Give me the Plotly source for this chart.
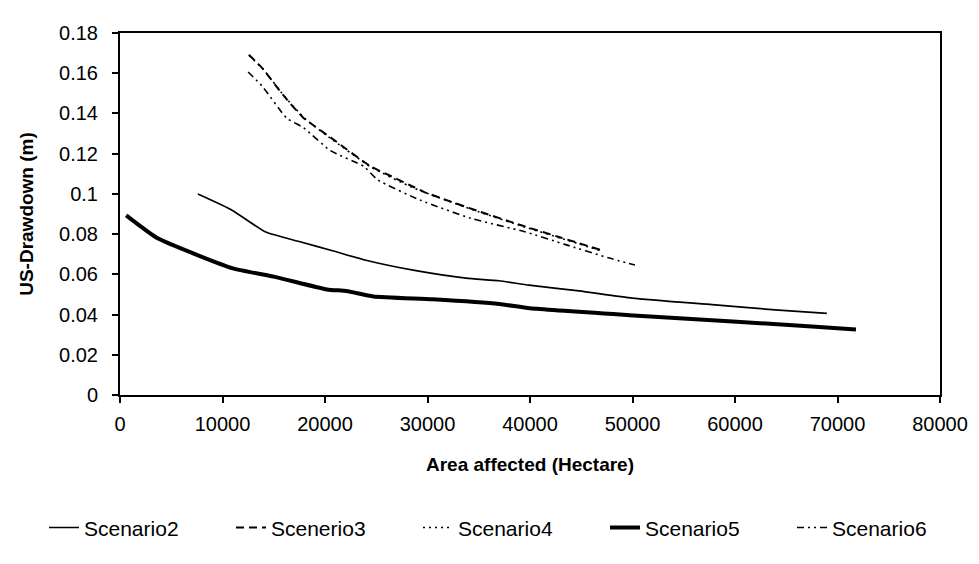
import plotly.graph_objects as go

# Data (Area affected in hectare, US-Drawdown in m)
s2_x = [7600, 10930, 14220, 17480, 20730, 23990, 28880, 33750, 36990, 39910, 44780, 49980, 57770, 64260, 68960]
s2_y = [0.0999, 0.0919, 0.0810, 0.0763, 0.0717, 0.0670, 0.0618, 0.0581, 0.0568, 0.0546, 0.0518, 0.0482, 0.0449, 0.0422, 0.0406]

s3_x = [12570, 13900, 15890, 17880, 20510, 24450, 26410, 28710, 29690, 34910, 39150, 43050, 46970]
s3_y = [0.1692, 0.1624, 0.1493, 0.1379, 0.1282, 0.1137, 0.1089, 0.1033, 0.1009, 0.0915, 0.0844, 0.0782, 0.0720]

s4_x = [12600, 14000, 16000, 18000, 20500, 24500, 28700, 35000, 39200, 43100, 47000]
s4_y = [0.1688, 0.1618, 0.1488, 0.1376, 0.1278, 0.1133, 0.1028, 0.0911, 0.0840, 0.0778, 0.0716]

s5_x = [600, 3580, 7800, 11000, 15300, 20200, 22100, 24700, 30500, 37000, 40000, 49700, 59400, 67500, 71800]
s5_y = [0.0893, 0.0782, 0.0691, 0.0630, 0.0585, 0.0525, 0.0517, 0.0490, 0.0476, 0.0453, 0.0431, 0.0397, 0.0367, 0.0341, 0.0326]

s6_x = [12500, 13930, 16260, 17900, 20530, 23810, 25130, 29380, 34270, 39480, 43400, 47640, 50240]
s6_y = [0.1606, 0.1532, 0.1377, 0.1329, 0.1215, 0.1136, 0.1070, 0.0967, 0.0878, 0.0812, 0.0749, 0.0682, 0.0646]

x_ticks = [0, 10000, 20000, 30000, 40000, 50000, 60000, 70000, 80000]
y_ticks = [0, 0.02, 0.04, 0.06, 0.08, 0.1, 0.12, 0.14, 0.16, 0.18]

FONT = "Liberation Sans, Arial, sans-serif"

fig = go.Figure()
fig.add_trace(go.Scatter(x=s2_x, y=s2_y, mode="lines", name="Scenario2",
                         line=dict(color="black", width=1.7, shape="spline", smoothing=0.5)))
fig.add_trace(go.Scatter(x=s3_x, y=s3_y, mode="lines", name="Scenerio3",
                         line=dict(color="black", width=2, dash="8px,5px", shape="spline", smoothing=0.5)))
fig.add_trace(go.Scatter(x=s4_x, y=s4_y, mode="lines", name="Scenario4",
                         line=dict(color="black", width=1.6, dash="2px,4px", shape="spline", smoothing=0.5)))
fig.add_trace(go.Scatter(x=s5_x, y=s5_y, mode="lines", name="Scenario5",
                         line=dict(color="black", width=4, shape="spline", smoothing=0.5)))
fig.add_trace(go.Scatter(x=s6_x, y=s6_y, mode="lines", name="Scenario6",
                         line=dict(color="black", width=1.6, dash="7px,4px,2px,4px,2px,4px", shape="spline", smoothing=0.5)))

fig.update_layout(
    width=979, height=564,
    margin=dict(l=120, r=39, t=33, b=169),
    paper_bgcolor="white", plot_bgcolor="white",
    font=dict(family=FONT, color="black", size=18),
    showlegend=True,
    legend=dict(orientation="h", x=-0.0659, xanchor="left", y=-0.367, yanchor="middle",
                font=dict(size=21, family=FONT), entrywidth=142, entrywidthmode="pixels",
                itemwidth=30, tracegroupgap=0, bgcolor="rgba(0,0,0,0)"),
    xaxis=dict(range=[0, 80000], tickvals=x_ticks, tickformat="d",
               showline=True, linecolor="black", linewidth=2, mirror=True,
               ticks="outside", ticklen=6, tickwidth=1.5, tickcolor="black",
               showgrid=False, zeroline=False,
               tickfont=dict(size=20, family=FONT), ticklabelstandoff=4,
               title=dict(text="<b>Area affected (Hectare)</b>", font=dict(size=19, family=FONT), standoff=24)),
    yaxis=dict(range=[0, 0.18], tickvals=y_ticks,
               showline=True, linecolor="black", linewidth=2, mirror=True,
               ticks="outside", ticklen=6, tickwidth=1.5, tickcolor="black",
               showgrid=False, zeroline=False,
               tickfont=dict(size=20, family=FONT), ticklabelstandoff=10,
               title=dict(text="<b>US-Drawdown (m)</b>", font=dict(size=19, family=FONT), standoff=20)),
)

fig.write_html("out.html", config={"displayModeBar": False},
               post_script="document.body.style.margin='0px';")
